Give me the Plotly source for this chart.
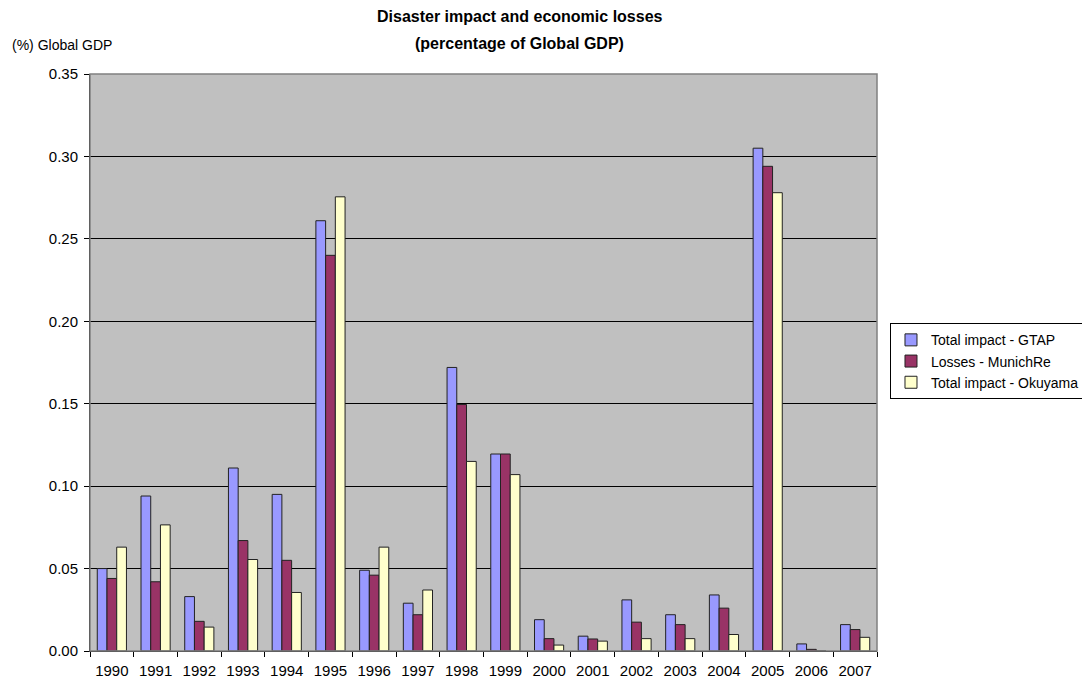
import plotly.graph_objects as go

years = [str(y) for y in range(1990, 2008)]

gtap = [0.050, 0.094, 0.033, 0.111, 0.095, 0.261, 0.049, 0.029, 0.172,
        0.1195, 0.019, 0.009, 0.031, 0.022, 0.034, 0.305, 0.0043, 0.016]
munichre = [0.044, 0.042, 0.018, 0.067, 0.055, 0.240, 0.046, 0.022, 0.1495,
            0.1195, 0.0075, 0.0073, 0.0175, 0.016, 0.026, 0.294, 0.001, 0.013]
okuyama = [0.063, 0.0765, 0.0145, 0.0555, 0.0355, 0.2755, 0.063, 0.037, 0.115,
           0.107, 0.0036, 0.006, 0.0075, 0.0075, 0.010, 0.278, 0.0, 0.0083]

series = [
    ("Total impact - GTAP", gtap, "#9999FF"),
    ("Losses - MunichRe", munichre, "#993366"),
    ("Total impact - Okuyama", okuyama, "#FFFFCC"),
]

FONT = "Liberation Sans, Arial, sans-serif"

fig = go.Figure()
for name, vals, color in series:
    fig.add_trace(go.Bar(
        x=years, y=vals, name=name,
        marker=dict(color=color, line=dict(color="#222222", width=1)),
    ))

title_lines = ["Disaster impact and economic losses", "(percentage of Global GDP)"]

fig.update_layout(
    width=1082, height=680,
    margin=dict(l=90, r=205, t=74, b=29, autoexpand=False),
    paper_bgcolor="white",
    plot_bgcolor="#C0C0C0",
    barmode="group",
    bargap=0.333,
    bargroupgap=0,
    font=dict(family=FONT, size=15, color="#000000"),
    legend=dict(
        x=1.0165, xanchor="left", y=0.568, yanchor="top",
        bgcolor="white", bordercolor="#000000", borderwidth=1,
        font=dict(family=FONT, size=14),
        traceorder="normal",
        itemwidth=30,
    ),
    annotations=[
        dict(text="<b>%s</b>" % title_lines[0], xref="paper", yref="paper",
             x=0.546, y=1.1005, xanchor="center", yanchor="middle",
             showarrow=False, font=dict(family=FONT, size=16)),
        dict(text="<b>%s</b>" % title_lines[1], xref="paper", yref="paper",
             x=0.546, y=1.0537, xanchor="center", yanchor="middle",
             showarrow=False, font=dict(family=FONT, size=16)),
        dict(text="(%) Global GDP", xref="paper", yref="paper",
             x=-0.1017, y=1.050, xanchor="left", yanchor="middle",
             showarrow=False, font=dict(family=FONT, size=14)),
    ],
    shapes=[dict(
        type="rect", xref="paper", yref="paper", x0=0, x1=1, y0=0, y1=1,
        line=dict(color="#808080", width=1.5), layer="above",
    )],
)

fig.update_yaxes(
    range=[0, 0.35], dtick=0.05, tickformat=".2f",
    showgrid=True, gridcolor="#000000", gridwidth=1,
    showline=True, linecolor="#000000", linewidth=1,
    ticks="outside", ticklen=5, tickcolor="#000000",
    ticklabelstandoff=3, automargin=False,
    zeroline=False,
)
fig.update_xaxes(
    showline=True, linecolor="#000000", linewidth=1,
    ticks="outside", ticklen=5, tickcolor="#000000",
    tickson="boundaries",
    ticklabelstandoff=6, automargin=False,
    showgrid=False,
)

fig.write_html("out.html")
